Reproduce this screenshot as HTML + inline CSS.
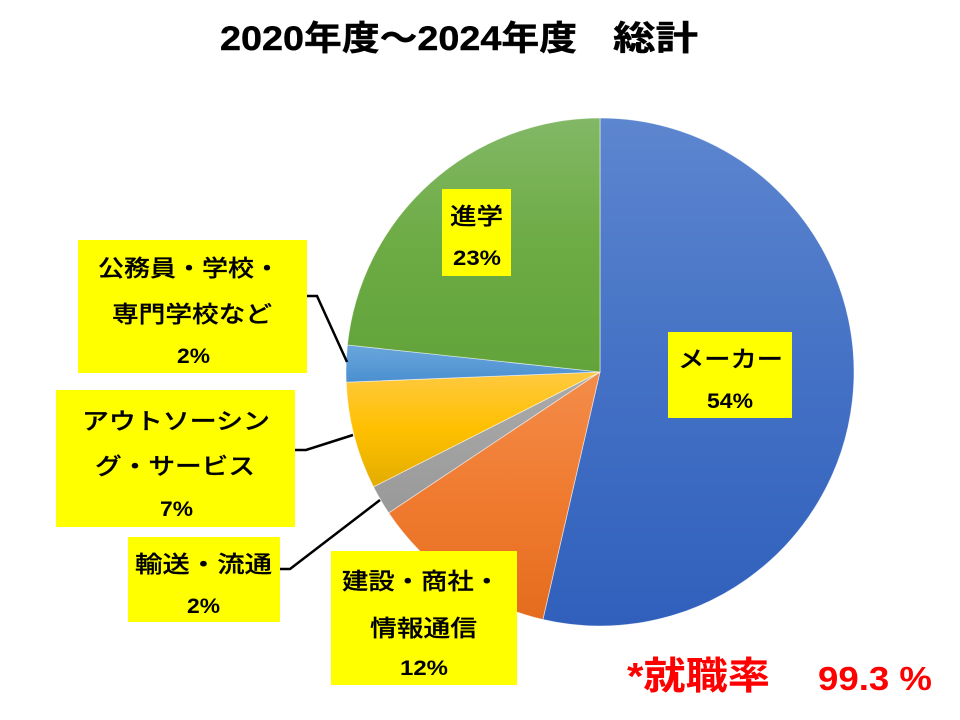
<!DOCTYPE html>
<html><head><meta charset="utf-8"><style>
html,body{margin:0;padding:0;background:#fff;}
svg{display:block;}
text{font-family:"Liberation Sans","Noto Sans CJK JP",sans-serif;fill:#000;}
.b{font-weight:bold;}
.m{font-weight:500;stroke:#000;stroke-width:0.25;}
</style></head><body>
<svg width="960" height="720" viewBox="0 0 960 720" xmlns="http://www.w3.org/2000/svg">
<defs>
<linearGradient id="gB" x1="0" y1="0" x2="0" y2="1"><stop offset="0" stop-color="#5D86CF"/><stop offset="0.5" stop-color="#4471C5"/><stop offset="1" stop-color="#3060BC"/></linearGradient>
<linearGradient id="gO" x1="0" y1="0" x2="0" y2="1"><stop offset="0" stop-color="#F38C4A"/><stop offset="0.5" stop-color="#F07B30"/><stop offset="1" stop-color="#E46C1E"/></linearGradient>
<linearGradient id="gG" x1="0" y1="0" x2="0" y2="1"><stop offset="0" stop-color="#ABABAB"/><stop offset="1" stop-color="#999999"/></linearGradient>
<linearGradient id="gY" x1="0" y1="0" x2="0" y2="1"><stop offset="0" stop-color="#FFC940"/><stop offset="0.5" stop-color="#FFC000"/><stop offset="1" stop-color="#E2AC00"/></linearGradient>
<linearGradient id="gL" x1="0" y1="0" x2="0" y2="1"><stop offset="0" stop-color="#6AA6DC"/><stop offset="1" stop-color="#4B8FD0"/></linearGradient>
<linearGradient id="gN" x1="0" y1="0" x2="0" y2="1"><stop offset="0" stop-color="#82B866"/><stop offset="0.5" stop-color="#6DAB44"/><stop offset="1" stop-color="#62A33A"/></linearGradient>
</defs>

<!-- Title -->
<text class="b" x="220" y="50" font-size="34" stroke="#000" stroke-width="0.4" textLength="357" lengthAdjust="spacingAndGlyphs">2020年度～2024年度</text>
<text class="b" x="613" y="50" font-size="34" stroke="#000" stroke-width="0.4" textLength="85" lengthAdjust="spacingAndGlyphs">総計</text>

<!-- Pie -->
<g stroke="#ffffff" stroke-opacity="0.6" stroke-width="0.8">
<path d="M600,372 L600,118 A254,254 0 1 1 542.9,619.5 Z" fill="url(#gB)"/>
<path d="M600,372 L542.9,619.5 A254,254 0 0 1 388.7,512.9 Z" fill="url(#gO)"/>
<path d="M600,372 L388.7,512.9 A254,254 0 0 1 373.5,486.9 Z" fill="url(#gG)"/>
<path d="M600,372 L373.5,486.9 A254,254 0 0 1 346.2,382.2 Z" fill="url(#gY)"/>
<path d="M600,372 L346.2,382.2 A254,254 0 0 1 347.4,345.0 Z" fill="url(#gL)"/>
<path d="M600,372 L347.4,345.0 A254,254 0 0 1 600,118 Z" fill="url(#gN)"/>
</g>

<!-- Leader lines -->
<g stroke="#000" stroke-width="2.5" fill="none">
<polyline points="307,296 317,296 347,362"/>
<polyline points="295,450 306,450 353,435"/>
<polyline points="280,569 290,569 380,500"/>
</g>

<!-- Label boxes -->
<g fill="#FFFF00">
<rect x="442" y="189" width="69" height="87"/>
<rect x="668" y="332" width="124" height="86"/>
<rect x="78" y="240" width="229" height="133"/>
<rect x="56" y="390" width="239" height="137"/>
<rect x="128" y="537" width="152" height="85"/>
<rect x="331" y="551" width="186" height="134"/>
</g>

<!-- Labels -->
<g font-size="23">
<text class="m" x="450" y="224" textLength="53" lengthAdjust="spacingAndGlyphs">進学</text>
<text class="b" x="453" y="265" font-size="21" textLength="48" lengthAdjust="spacingAndGlyphs">23%</text>

<text class="m" x="678" y="367" textLength="105" lengthAdjust="spacingAndGlyphs">メーカー</text>
<text class="b" x="707" y="408" font-size="21" textLength="46" lengthAdjust="spacingAndGlyphs">54%</text>

<text class="m" x="98" y="276" textLength="182" lengthAdjust="spacingAndGlyphs">公務員・学校・</text>
<text class="m" x="112" y="322" textLength="160" lengthAdjust="spacingAndGlyphs">専門学校など</text>
<text class="b" x="177" y="363" font-size="21" textLength="33" lengthAdjust="spacingAndGlyphs">2%</text>

<text class="m" x="82" y="429" textLength="188" lengthAdjust="spacingAndGlyphs">アウトソーシン</text>
<text class="m" x="95" y="474" textLength="160" lengthAdjust="spacingAndGlyphs">グ・サービス</text>
<text class="b" x="160" y="516" font-size="21" textLength="33" lengthAdjust="spacingAndGlyphs">7%</text>

<text class="m" x="135" y="572" textLength="137" lengthAdjust="spacingAndGlyphs">輸送・流通</text>
<text class="b" x="187" y="613" font-size="21" textLength="33" lengthAdjust="spacingAndGlyphs">2%</text>

<text class="m" x="342" y="589" textLength="158" lengthAdjust="spacingAndGlyphs">建設・商社・</text>
<text class="m" x="370" y="636" textLength="107" lengthAdjust="spacingAndGlyphs">情報通信</text>
<text class="b" x="400" y="675" font-size="21" textLength="48" lengthAdjust="spacingAndGlyphs">12%</text>
</g>

<!-- Employment rate -->
<text class="b" x="627" y="689" font-size="38" fill="#FF0000" style="fill:#FF0000" textLength="143" lengthAdjust="spacingAndGlyphs">*就職率</text>
<text class="b" x="818" y="690" font-size="33" fill="#FF0000" style="fill:#FF0000" textLength="114" lengthAdjust="spacingAndGlyphs">99.3 %</text>
</svg>
</body></html>
